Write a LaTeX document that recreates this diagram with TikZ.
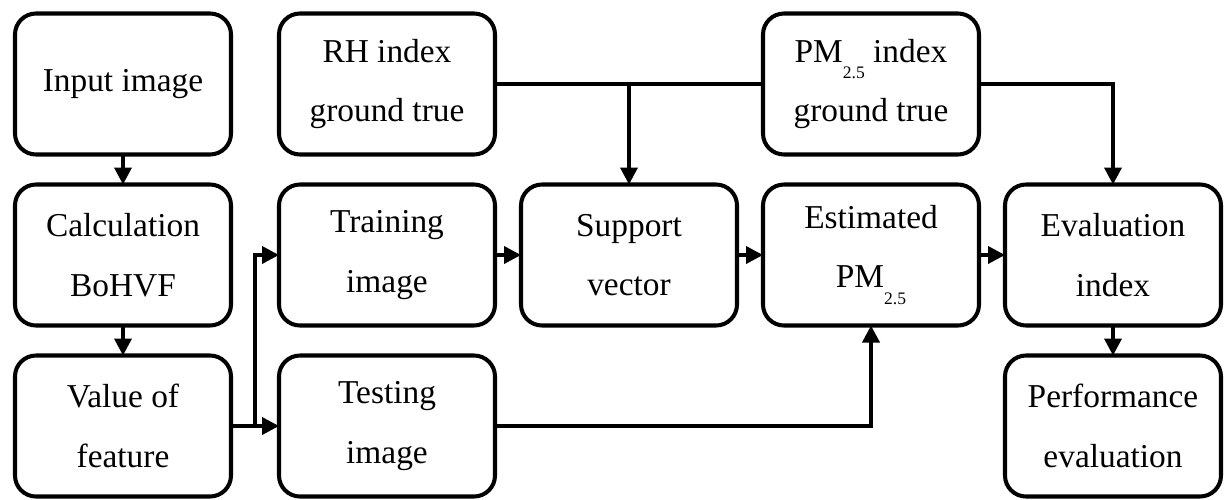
\documentclass[tikz,border=0pt]{standalone}
\usepackage{fontspec}
\setmainfont{Liberation Serif}
\usetikzlibrary{positioning,arrows.meta,calc}

\newcommand{\pmtwo}{PM\raisebox{-1.1ex}{\fontsize{10}{10}\selectfont 2.5}}

\begin{document}
\begin{tikzpicture}[node distance=0.6cm and 0.52cm,
  box/.style={draw,line width=2.3pt,rounded corners=0.42cm,outer sep=0pt,
    minimum width=4.32cm,minimum height=2.82cm,align=center,
    font=\fontsize{19}{34}\selectfont},
  arr/.style={line width=2.1pt,-{Triangle[length=0.34cm,width=0.34cm]}},
  ln/.style={line width=2.1pt}]
\useasboundingbox (0,0) rectangle (24.56,-9.98);
\node[box] (inp) at (2.46,-1.68) {Input image};
\node[box] (calc) [below=of inp] {Calculation\\BoHVF};
\node[box] (val) [below=of calc] {Value of\\feature};
\node[box] (train) [right=0.96cm of calc] {Training\\image};
\node[box] (test) [right=0.96cm of val] {Testing\\image};
\node[box] (rh) [right=0.96cm of inp] {RH index\\ground true};
\node[box] (sup) [right=of train] {Support\\vector};
\node[box] (est) [right=of sup] {Estimated\\\pmtwo};
\node[box] (evl) [right=of est] {Evaluation\\index};
\node[box] (perf) [below=of evl] {Performance\\evaluation};
\node[box] (pm) [above=of est] {\pmtwo{} index\\ground true};
\coordinate (split) at ($(val.east)!0.5!(test.west)$);
% arrows
\draw[arr] (inp) -- (calc);
\draw[arr] (calc) -- (val);
\draw[ln] (val.east) -- (split);
\draw[arr] (split) -- (test.west);
\draw[arr] (split) |- (train.west);
\draw[arr] (train) -- (sup);
\draw[arr] (sup) -- (est);
\draw[arr] (est) -- (evl);
\draw[arr] (evl) -- (perf);
\draw[ln] (rh.east) -- (pm.west);
\draw[arr] (rh.east -| sup.north) -- (sup.north);
\draw[arr] (pm.east) -| (evl.north);
\draw[arr] (test.east) -| (est.south);
\end{tikzpicture}
\end{document}
